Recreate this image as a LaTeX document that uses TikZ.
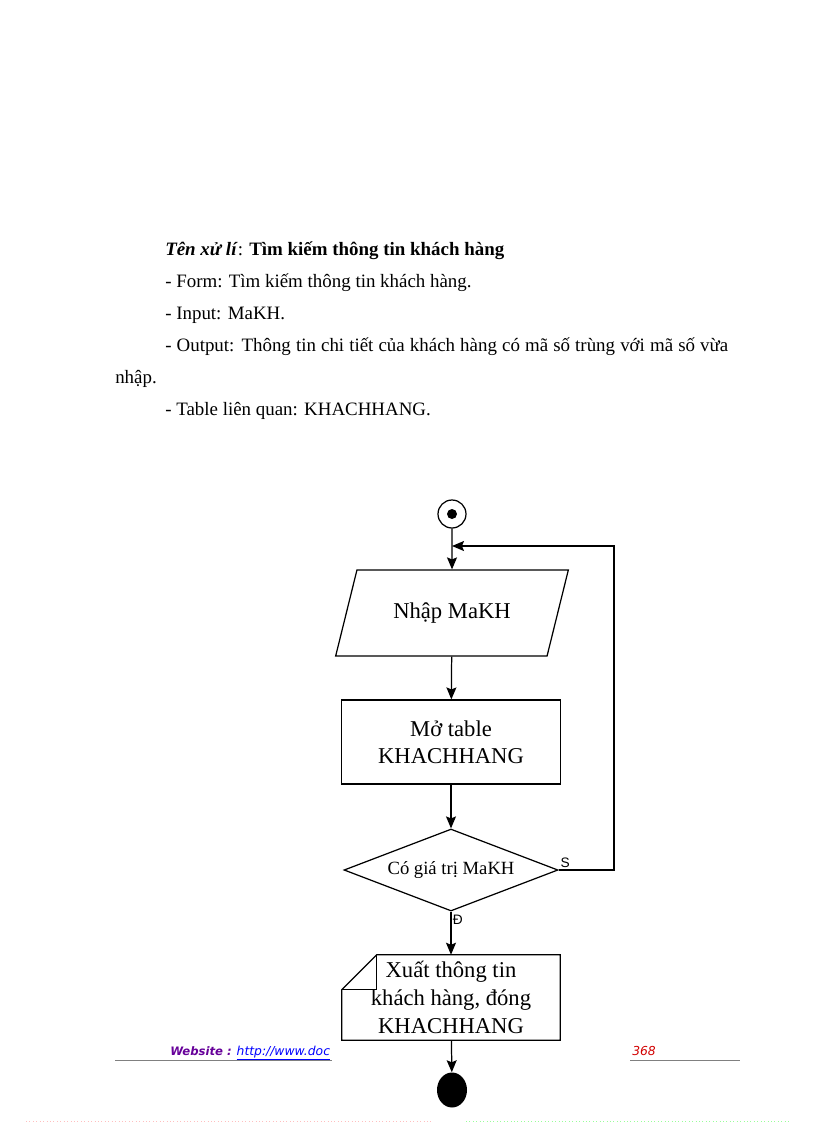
\documentclass[tikz,border=0pt]{standalone}
\usepackage{fontspec}
\setmainfont{Liberation Serif}
\newfontfamily\webfont{DejaVu Sans}
\newfontfamily\labfont{Liberation Sans}
\usetikzlibrary{arrows,arrows.meta}
\usetikzlibrary{shapes,positioning}
\newdimen\pxu \pxu=0.7295pt
\definecolor{timweb}{RGB}{102,0,153}
\definecolor{doso}{RGB}{210,0,0}
\tikzset{>={Stealth[length=8.75pt,width=7.3pt,inset=1.5pt]},
  dong/.style={anchor=base west,inner sep=0pt,font=\fontsize{13.8}{16}\selectfont},
  khung/.style={draw,line width=0.9pt},
  batdaunode/.style={circle,khung,minimum size=28\pxu,inner sep=0pt,
    path picture={\fill (path picture bounding box.center) circle (5\pxu);}},
  nhapnode/.style={trapezium,khung,trapezium left angle=64.5,trapezium right angle=115.5,
    trapezium stretches=true,minimum width=233\pxu,minimum height=86\pxu,
    font=\fontsize{16.5}{20}\selectfont},
  xulynode/.style={rectangle,khung,minimum width=219\pxu,minimum height=84\pxu,
    align=center,font=\fontsize{16.5}{20}\selectfont},
  dieukiennode/.style={diamond,khung,minimum width=214\pxu,minimum height=82\pxu,
    inner sep=0pt,aspect=2.6,font=\fontsize{13.6}{16}\selectfont},
  xuatnode/.style={rectangle,minimum width=218\pxu,minimum height=85\pxu,inner sep=0pt,
    align=center,font=\fontsize{16.5}{20.4}\selectfont},
  ketthucnode/.style={ellipse,fill,minimum width=30\pxu,minimum height=35\pxu,inner sep=0pt},
  nhan/.style={font=\labfont\fontsize{10}{12}\selectfont,inner sep=1pt},
  mui/.style={->,line width=0.9pt}
}
\begin{document}
\begin{tikzpicture}[x=0.7295pt,y=-0.7295pt]
  \useasboundingbox (0,0) rectangle (816,1123);

  \node [dong] (ten) at (165,255) {\textbf{\textit{Tên xử lí}}: \textbf{Tìm kiếm thông tin khách hàng}};
  \node [dong] (form) at (165,287) {- Form: Tìm kiếm thông tin khách hàng.};
  \node [dong] (input) at (165,319) {- Input: MaKH.};
  \node [dong] (output) at (165,351) {\makebox[563\pxu][s]{- Output: Thông tin chi tiết của khách hàng có mã số trùng với mã số vừa}};
  \node [dong] (output2) at (115,383) {nhập.};
  \node [dong] (table) at (165,415) {- Table liên quan: KHACHHANG.};

  \node [batdaunode] (batdau) at (452,514) {};
  \node [nhapnode] (nhapma) at (452,613) {Nhập MaKH};
  \node [xulynode] (motable) at (451,742) {Mở table\\KHACHHANG};
  \node [dieukiennode] (cogiatri) at (451,870) {Có giá trị MaKH};
  \node [xuatnode] (xuatkh) at (451,997.5) {Xuất thông tin\\khách hàng, đóng\\KHACHHANG};
  \node [ketthucnode] (ketthuc) at (452,1090) {};
  \coordinate (vong) at (614,546);

  \draw [khung] ([yshift=-35\pxu]xuatkh.north west) -- ([xshift=35\pxu]xuatkh.north west)
    -- (xuatkh.north east) -- (xuatkh.south east) -- (xuatkh.south west) -- cycle;
  \draw [khung] ([xshift=35\pxu]xuatkh.north west) |- ([yshift=-35\pxu]xuatkh.north west);

  \draw [mui] (batdau) -- (nhapma);
  \draw [mui] (nhapma) -- (motable);
  \draw [mui] (motable) -- (cogiatri);
  \draw [mui] (cogiatri) -- node [nhan,pos=0.2,right] {Đ} (xuatkh);
  \draw [mui] (xuatkh) -- (ketthuc);
  \draw [mui] (cogiatri.east) node [nhan,above right] {S} -| (vong) -- (batdau |- vong);

  \node [anchor=base west,inner sep=0pt] (web) at (170,1055)
    {\webfont\fontsize{8.5}{10}\selectfont\color{timweb}\textbf{\textit{Website :}}
     \fontsize{9}{10}\selectfont\color{blue}\textit{\underline{http://www.doc}}};
  \node [anchor=base west,inner sep=0pt,text=doso] (trang) at (632,1055)
    {\webfont\fontsize{9}{10}\selectfont\textit{368}};
  \draw [gray,line width=0.6pt] (115,1060) -- (332,1060);
  \draw [gray,line width=0.6pt] (630,1060) -- (740,1060);
  \draw [pink,dotted,line width=0.5pt] (26,1121) -- (432,1121);
  \draw [green!40,dotted,line width=0.5pt] (466,1121) -- (791,1121);
\end{tikzpicture}
\end{document}
